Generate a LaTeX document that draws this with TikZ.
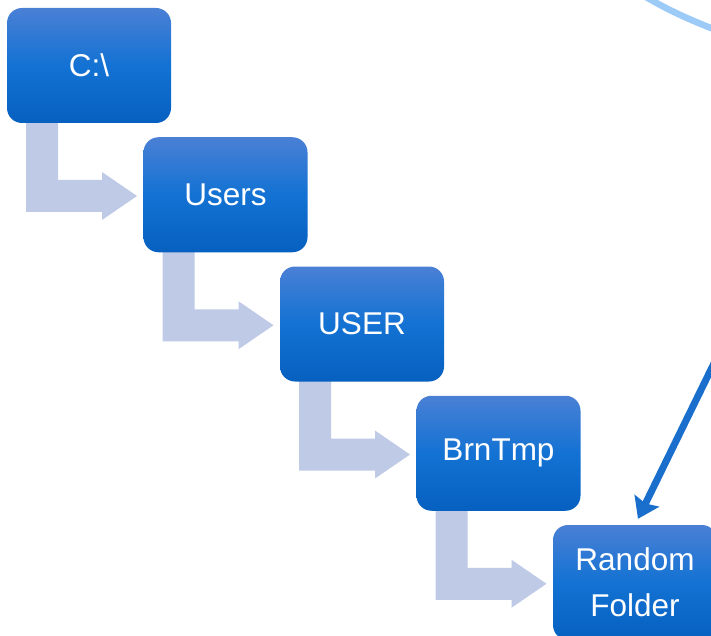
\documentclass[tikz,border=0pt]{standalone}
\usepackage{fontspec}
\setmainfont{Liberation Sans}
\usetikzlibrary{arrows.meta}

\definecolor{btop}{HTML}{4A80D5}
\definecolor{bmid}{HTML}{1372D3}
\definecolor{bbot}{HTML}{0660C0}
\definecolor{stepfill}{HTML}{BFCAE6}
\definecolor{linkblue}{HTML}{1A6FCC}
\definecolor{arcblue}{HTML}{9DCBF7}

% vertical gradient of the folder boxes (bottom -> top)
\pgfdeclareverticalshading{foldershade}{100bp}{%
  color(0bp)=(bbot); color(25bp)=(bbot); color(50bp)=(bmid);
  color(75bp)=(btop); color(100bp)=(btop)}

\tikzset{
  folder/.style={rectangle, rounded corners=15pt, minimum width=164pt,
    minimum height=115pt, inner sep=0pt, shading=foldershade,
    text=white, font=\fontsize{31.5}{46}\selectfont, align=center},
  stepshape/.style={fill=stepfill, draw=none},
  linkarrow/.style={draw=linkblue, line width=7pt,
    -{Stealth[length=20pt,width=27pt,inset=3pt]}},
  arcline/.style={draw=arcblue, line width=6.5pt}
}

\begin{document}
\begin{tikzpicture}[x=1pt, y=-1pt]
  \useasboundingbox (0,0) rectangle (711,636);
  \clip (0,0) rectangle (711,636);

  % folder chain
  \coordinate (p1) at (89,65.5);
  \coordinate (p2) at (225.5,194.75);
  \coordinate (p3) at (362,324);
  \coordinate (p4) at (498.5,453.25);
  \coordinate (p5) at (635,582.5);

  % bent step arrows, drawn under the boxes
  \foreach \p in {p1,p2,p3,p4} {
    \begin{scope}[shift={(\p)}]
      \path[stepshape] (-63,0) -- (-31,0) -- (-31,114.5) -- (13,114.5)
        -- (13,106.5) -- (48,130.5) -- (13,154.5) -- (13,146.5)
        -- (-63,146.5) -- cycle;
    \end{scope}
  }

  \node[folder] (c)     at (p1) {C:\textbackslash};
  \node[folder] (users) at (p2) {Users};
  \node[folder] (user)  at (p3) {USER};
  \node[folder] (brn)   at (p4) {BrnTmp};
  \node[folder] (rnd)   at (p5) {Random\\Folder};

  % incoming link to the last folder
  \coordinate (src) at (720,351);
  \draw[linkarrow] (src) -- ([shift={(3,-6)}]rnd.north);

  % arc in the upper right corner
  \path[arcline] (646,-3) .. controls (668,10) and (690,20) .. (716,30);
\end{tikzpicture}
\end{document}
